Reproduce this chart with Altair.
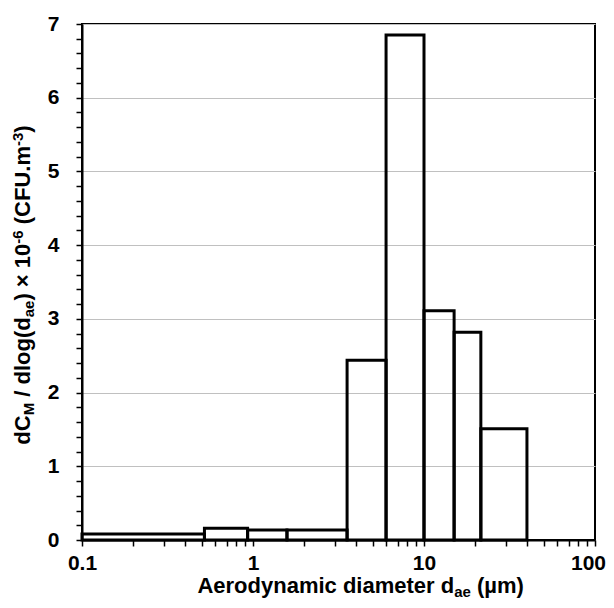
import altair as alt
import pandas as pd

# ---- data ----
bin_lo = [0.1, 0.52, 0.93, 1.58, 3.55, 6.0, 10.0, 15.0, 21.5]
bin_hi = [0.52, 0.93, 1.58, 3.55, 6.0, 10.0, 15.0, 21.5, 40.0]
values = [0.08, 0.16, 0.135, 0.135, 2.44, 6.85, 3.11, 2.82, 1.51]

x_major = [0.1, 1, 10, 100]
y_major = [0, 1, 2, 3, 4, 5, 6, 7]

x_title = [("Aerodynamic diameter d", "n"), ("ae", "sub"), (" (µm)", "n")]
y_title = [("dC", "n"), ("M", "sub"), (" / dlog(d", "n"), ("ae", "sub"),
           (") × 10", "n"), ("-6", "sup"), (" (CFU.m", "n"), ("-3", "sup"), (")", "n")]

FONT = "Liberation Sans"
W, H = 513, 516
MAIN, SMALL = 22, 15

df = pd.DataFrame({"lo": bin_lo, "hi": bin_hi, "v": values})

# tick positions (minor + major)
x_ticks = [round(m * 10 ** e, 6) for e in (-1, 0, 1) for m in range(1, 10)] + [100]
y_ticks = [round(i * 0.2, 1) for i in range(36)]

is_x_major = "abs(log(datum.value)/LN10 - round(log(datum.value)/LN10)) < 1e-6"
is_y_major = "abs(datum.value - round(datum.value)) < 1e-6"

bars = alt.Chart(df).mark_rect(
    fill="white", fillOpacity=0, stroke="black", strokeWidth=3, strokeJoin="miter"
).encode(
    x=alt.X("lo:Q", scale=alt.Scale(type="log", domain=[0.1, 100], nice=False),
            axis=alt.Axis(values=x_ticks, title=None, grid=False,
                          labelExpr=f"({is_x_major}) ? format(datum.value, '~g') : ''",
                          labelOverlap=False, labelFlush=False, labelBound=False,
                          labelOffset={"condition": {"test": "datum.value > 99", "value": -7}, "value": 0},
                          tickSize=6, labelPadding=6)),
    x2="hi:Q",
    y=alt.Y("v:Q", scale=alt.Scale(domain=[0, 7], nice=False, zero=True),
            axis=alt.Axis(values=y_ticks, title=None,
                          labelExpr=f"({is_y_major}) ? format(datum.value, 'd') : ''",
                          labelOverlap=False, labelFlush=False,
                          gridOpacity={"condition": {"test": is_y_major, "value": 1}, "value": 0},
                          tickSize=6, labelPadding=17)),
    y2=alt.datum(0),
)

FW = {' ': 278, '(': 333, ')': 333, '-': 333, '.': 278, '/': 278, '×': 584, 'µ': 611,
      'A': 722, 'C': 722, 'F': 611, 'M': 833, 'U': 722, 'a': 556, 'd': 611, 'e': 556,
      'g': 611, 'i': 278, 'l': 278, 'm': 889, 'n': 611, 'o': 611, 'r': 389, 't': 333,
      'y': 556}


def tw(s, size):
    return sum(FW.get(c, 556) for c in s) / 1000.0 * size


def seg_size(kind):
    return MAIN if kind == "n" else SMALL


def seg_shift(kind):
    return {"n": 0, "sub": 4, "sup": -7}[kind]


def text_layer(s, x, y, size, angle=0):
    return alt.Chart(pd.DataFrame({"t": [s]})).mark_text(
        align="left", baseline="alphabetic", font=FONT, fontSize=size,
        fontWeight="bold", color="black", angle=angle
    ).encode(x=alt.value(x), y=alt.value(y), text="t:N")


layers = [bars]

# x title (horizontal)
total = sum(tw(s, seg_size(k)) for s, k in x_title)
pos = 279 - total / 2
base_y = 569
for s, k in x_title:
    size = seg_size(k)
    lead = len(s) - len(s.lstrip())
    layers.append(text_layer(s.strip(), pos + tw(" " * lead, size), base_y + seg_shift(k), size))
    pos += tw(s, size)

# y title (rotated, bottom to top)
total = sum(tw(s, seg_size(k)) for s, k in y_title)
pos = 261 + total / 2
base_x = -52
for s, k in y_title:
    size = seg_size(k)
    lead = len(s) - len(s.lstrip())
    layers.append(text_layer(s.strip(), base_x + seg_shift(k), pos - tw(" " * lead, size), size, angle=270))
    pos -= tw(s, size)

chart = alt.layer(*layers).properties(
    width=W, height=H,
    autosize="none",
    padding={"left": 74, "top": 16, "right": 11, "bottom": 60},
    background="white",
).configure_view(
    stroke="black", strokeWidth=2
).configure_axis(
    domainColor="black", domainWidth=2,
    tickColor="black", tickWidth=1.5,
    gridColor="#c0c0c0", gridWidth=1,
    labelFont=FONT, labelFontSize=21, labelFontWeight="bold", labelColor="black",
)

chart.save("out.html", embed_options={"renderer": "svg", "actions": False})
